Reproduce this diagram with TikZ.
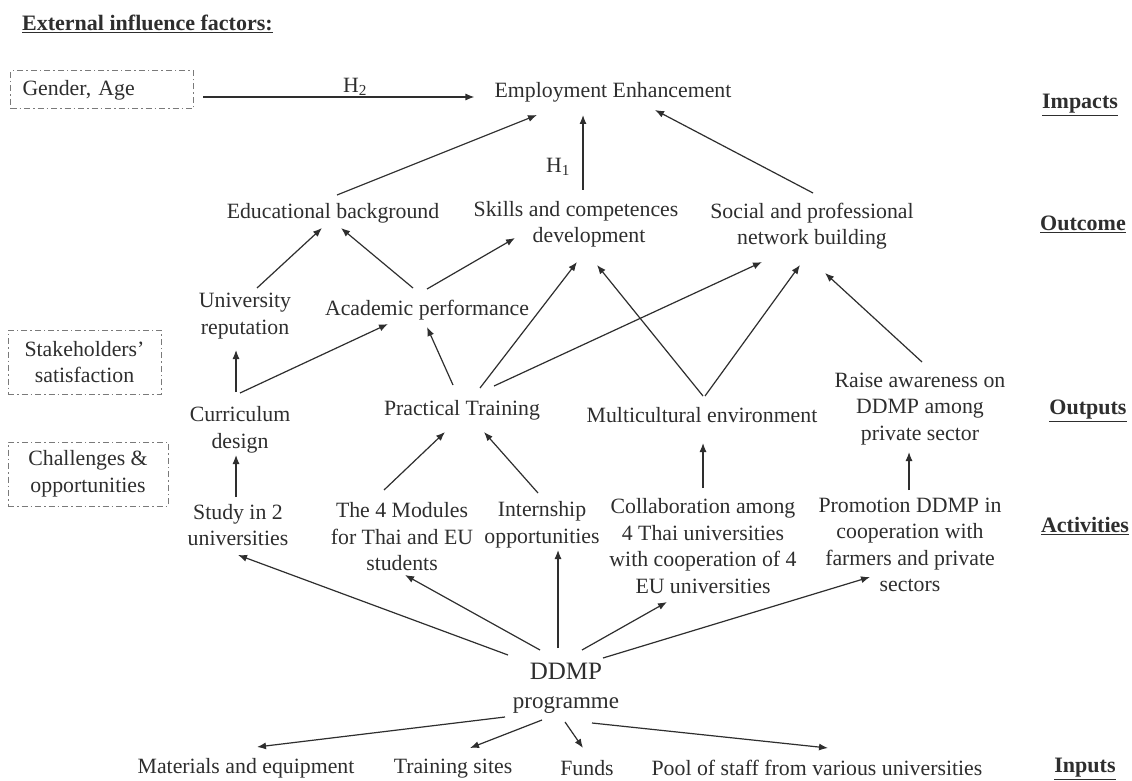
\documentclass[tikz,border=0pt]{standalone}
\usepackage{fontspec}
\setmainfont{Liberation Serif}
\usetikzlibrary{arrows.meta,calc}
\definecolor{ink}{HTML}{2E2E2E}
\definecolor{boxc}{HTML}{7A7A7A}
\begin{document}
\begin{tikzpicture}[x=1pt,y=-1pt,
  txt/.style={inner sep=0pt, text=ink, font=\fontsize{21.8}{26.5}\selectfont, align=center},
  big/.style={inner sep=0pt, text=ink, font=\fontsize{25}{31}\selectfont, align=center},
  lbl/.style={inner sep=0pt, text=ink, font=\fontsize{22}{26}\selectfont\bfseries},
  ebox/.style={draw=boxc, dash pattern=on 6pt off 3pt on 1.5pt off 3pt, line width=1pt, inner sep=0pt, text=ink, font=\fontsize{21.8}{26.5}\selectfont, align=center},
  arr/.style={draw=ink, line width=1.2pt, -{Latex[length=9pt,width=7pt]}}]
\useasboundingbox[fill=white] (0,0) rectangle (1132,781);

% title and side labels
\node[lbl, anchor=west] (ext) at (22,24) {\underline{External influence factors:}};
\node[lbl] (impacts) at (1080,105) {\underline{Impacts}};
\node[lbl] (outcome) at (1083,224) {\underline{Outcome}};
\node[lbl] (outputs) at (1088,411) {\underline{Outputs}};
\node[lbl] (activities) at (1085,526) {\underline{Activities}};
\node[lbl] (inputs) at (1085,769) {\underline{Inputs}};

% external factor boxes
\node[ebox, anchor=west, minimum width=183pt, minimum height=38pt, inner xsep=12pt, text width=159pt, align=left] (gender) at (10,90) {Gender, Age};
\node[ebox, minimum width=153pt, minimum height=64pt] (stake) at (84.5,362) {Stakeholders'\\satisfaction};
\node[ebox, minimum width=160pt, minimum height=64pt] (chal) at (88,474) {Challenges \&\\opportunities};

% impacts / outcomes
\node[txt] (emp) at (613,92) {Employment Enhancement};
\node[txt] (edu) at (333,213) {Educational background};
\node[txt] (skills) at (576,224.5) {Skills and competences\\\hspace*{26pt}development};
\node[txt] (social) at (812,226) {Social and professional\\network building};
\node[txt] (univ) at (245,316) {University\\reputation};
\node[txt] (acad) at (427,310) {Academic performance};

% outputs
\node[txt] (curr) at (240,430) {Curriculum\\design};
\node[txt] (prac) at (462,410) {Practical Training};
\node[txt] (multi) at (702,415) {Multicultural environment};
\node[txt] (raise) at (920,409) {Raise awareness on\\DDMP among\\private sector};

% activities
\node[txt] (study) at (238,525) {Study in 2\\universities};
\node[txt] (modules) at (402,537) {The 4 Modules\\for Thai and EU\\students};
\node[txt] (intern) at (542,525) {Internship\\opportunities};
\node[txt] (collab) at (703,546) {Collaboration among\\4 Thai universities\\with cooperation of 4\\EU universities};
\node[txt] (promo) at (910,545) {Promotion DDMP in\\cooperation with\\farmers and private\\sectors};

% programme and inputs
\node[big] (ddmp) at (566,688) {DDMP\\[-2pt]{\fontsize{23}{26}\selectfont programme}};
\node[txt] (mat) at (246,768) {Materials and equipment};
\node[txt] (train) at (453,769) {Training sites};
\node[txt] (funds) at (587,768) {Funds};
\node[txt] (pool) at (817,768) {Pool of staff from various universities};

% connectors: impacts
\draw[arr] ($(gender.east)+(9,7)$) -- node[txt, above=1pt, pos=0.56] (h2) {H\textsubscript{2}} ($(emp.west)+(-20,5)$);
\draw[arr] ($(edu)+(4,-18)$) -- ($(emp)+(-76,23)$);
\draw[arr] ($(skills)+(7,-35)$) -- ($(emp)+(-30,23)$);
\node[txt] (h1) at (558,167) {H\textsubscript{1}};
\draw[arr] ($(social)+(1,-33)$) -- ($(emp)+(42,18)$);

% connectors: outcomes
\draw[arr] ($(univ)+(12,-28)$) -- ($(edu)+(-11,15)$);
\draw[arr] ($(acad)+(-14,-22)$) -- ($(edu)+(8,15)$);
\draw[arr] ($(acad)+(0,-21)$) -- ($(skills)+(-61,13.5)$);
\draw[arr] ($(curr)+(-4,-38)$) -- ($(univ)+(-9,34)$);
\draw[arr] ($(curr)+(0,-37)$) -- ($(acad)+(-39,14)$);
\draw[arr] ($(prac)+(-9,-25)$) -- ($(acad)+(0,17)$);
\draw[arr] ($(prac)+(18,-22)$) -- ($(skills)+(1,37.5)$);
\draw[arr] ($(prac)+(32,-24)$) -- ($(social)+(-50,36)$);
\draw[arr] ($(multi)+(1,-19)$) -- ($(skills)+(21,40.5)$);
\draw[arr] ($(multi)+(3,-19)$) -- ($(social)+(-12,39)$);
\draw[arr] ($(raise)+(2,-47)$) -- ($(social)+(13,47)$);

% connectors: activities to outputs
\draw[arr] ($(study)+(-2,-28)$) -- ($(curr)+(-4,25)$);
\draw[arr] ($(modules)+(-18,-47)$) -- ($(prac)+(-17,22)$);
\draw[arr] ($(intern)+(-4,-32)$) -- ($(prac)+(22,22)$);
\draw[arr] ($(collab)+(0,-58)$) -- ($(multi)+(1,28)$);
\draw[arr] ($(promo)+(-1,-55)$) -- ($(raise)+(-11,43)$);

% connectors: programme to activities
\draw[arr] ($(ddmp)+(-58,-33)$) -- ($(study)+(0,30)$);
\draw[arr] ($(ddmp)+(-26,-38)$) -- ($(modules)+(3,38)$);
\draw[arr] ($(ddmp)+(-8,-40)$) -- ($(intern)+(16,25)$);
\draw[arr] ($(ddmp)+(16,-38)$) -- ($(collab)+(-36,56)$);
\draw[arr] ($(ddmp)+(37,-30)$) -- ($(promo)+(-40,32)$);

% connectors: programme to inputs
\draw[arr] ($(ddmp)+(-61,29)$) -- ($(mat)+(11,-21)$);
\draw[arr] ($(ddmp)+(-24,32)$) -- ($(train)+(17,-21)$);
\draw[arr] ($(ddmp)+(-1,34)$) -- ($(funds)+(-4,-20)$);
\draw[arr] ($(ddmp)+(26,35)$) -- ($(pool)+(11,-20)$);
\end{tikzpicture}
\end{document}
